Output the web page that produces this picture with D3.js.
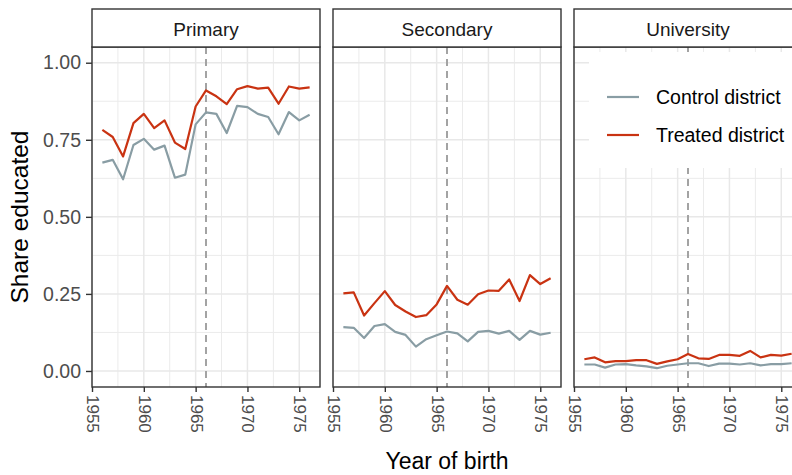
<!DOCTYPE html>
<html>
<head>
<meta charset="utf-8">
<script src="https://cdn.jsdelivr.net/npm/d3@7"></script>
<style>
  html, body { margin: 0; padding: 0; background: #fff; }
  svg { display: block; font-family: "Liberation Sans", Arial, Helvetica, sans-serif; }
</style>
</head>
<body>
<svg id="chart" width="792" height="475"></svg>
<script>
// Birth cohorts
const years = [1956, 1957, 1958, 1959, 1960, 1961, 1962, 1963, 1964, 1965, 1966,
               1967, 1968, 1969, 1970, 1971, 1972, 1973, 1974, 1975, 1976];

// Education levels (one facet each)
const levels = ["Primary", "Secondary", "University"];

// Share educated, control districts
const primaryControl = [0.676, 0.685, 0.622, 0.733, 0.753, 0.718, 0.731, 0.627, 0.637, 0.800, 0.839,
                        0.834, 0.772, 0.860, 0.856, 0.834, 0.824, 0.768, 0.840, 0.813, 0.831];
const secondaryControl = [0.142, 0.140, 0.107, 0.146, 0.152, 0.127, 0.117, 0.079, 0.103, 0.116, 0.128,
                          0.122, 0.096, 0.127, 0.130, 0.121, 0.130, 0.101, 0.130, 0.118, 0.124];
const universityControl = [0.021, 0.021, 0.011, 0.021, 0.022, 0.018, 0.015, 0.009, 0.017, 0.021, 0.025,
                           0.025, 0.016, 0.024, 0.024, 0.021, 0.025, 0.018, 0.022, 0.022, 0.025];

// Share educated, treated districts
const primaryTreated = [0.782, 0.759, 0.696, 0.804, 0.834, 0.788, 0.813, 0.741, 0.720, 0.858, 0.910,
                        0.891, 0.866, 0.914, 0.924, 0.916, 0.919, 0.867, 0.923, 0.916, 0.920];
const secondaryTreated = [0.252, 0.255, 0.180, 0.220, 0.259, 0.214, 0.193, 0.175, 0.181, 0.216, 0.276,
                          0.231, 0.215, 0.249, 0.261, 0.260, 0.297, 0.227, 0.311, 0.282, 0.301];
const universityTreated = [0.038, 0.044, 0.028, 0.032, 0.032, 0.035, 0.035, 0.023, 0.031, 0.038, 0.055,
                           0.041, 0.039, 0.052, 0.052, 0.049, 0.065, 0.044, 0.052, 0.050, 0.056];

// Groups and reform cohort
const groups = ["Control district", "Treated district"];
const groupColors = ["#899DA4", "#C93312"];
const reformYear = 1966;

// Axis ticks
const xTicks = [1955, 1960, 1965, 1970, 1975];
const xMinor = [1957.5, 1962.5, 1967.5, 1972.5];
const yTicks = [0, 0.25, 0.5, 0.75, 1.0];
const yTickLabels = ["0.00", "0.25", "0.50", "0.75", "1.00"];
const yMinor = [0.125, 0.375, 0.625, 0.875];

const seriesByLevel = {
  "Primary": [primaryControl, primaryTreated],
  "Secondary": [secondaryControl, secondaryTreated],
  "University": [universityControl, universityTreated]
};

// ---- layout ----
const svg = d3.select("#chart");
const panelW = 228, panelGap = 13, panelLeft = 92;
const stripTop = 9, stripBottom = 47, panelBottom = 387;

const y = d3.scaleLinear().domain([-0.052, 1.051]).range([panelBottom, stripBottom]);

const line = (x) => d3.line().x((d, i) => x(years[i])).y(d => y(d));

levels.forEach((lvl, k) => {
  const x0 = panelLeft + k * (panelW + panelGap);
  const x = d3.scaleLinear().domain([1955, 1977]).range([x0, x0 + panelW]);
  const g = svg.append("g");

  // background
  g.append("rect").attr("x", x0).attr("y", stripBottom).attr("width", panelW)
    .attr("height", panelBottom - stripBottom).attr("fill", "#fff");

  // minor grid
  g.selectAll(".xminor").data(xMinor).join("line")
    .attr("x1", d => x(d)).attr("x2", d => x(d))
    .attr("y1", stripBottom).attr("y2", panelBottom)
    .attr("stroke", "#ebebeb").attr("stroke-width", 1);
  g.selectAll(".yminor").data(yMinor).join("line")
    .attr("x1", x0).attr("x2", x0 + panelW)
    .attr("y1", d => y(d)).attr("y2", d => y(d))
    .attr("stroke", "#ebebeb").attr("stroke-width", 1);
  // major grid
  g.selectAll(".xmajor").data(xTicks).join("line")
    .attr("x1", d => x(d)).attr("x2", d => x(d))
    .attr("y1", stripBottom).attr("y2", panelBottom)
    .attr("stroke", "#e8e8e8").attr("stroke-width", 1.5);
  g.selectAll(".ymajor").data(yTicks).join("line")
    .attr("x1", x0).attr("x2", x0 + panelW)
    .attr("y1", d => y(d)).attr("y2", d => y(d))
    .attr("stroke", "#e8e8e8").attr("stroke-width", 1.5);

  // reform cohort marker
  g.append("line")
    .attr("x1", x(reformYear)).attr("x2", x(reformYear))
    .attr("y1", stripBottom).attr("y2", panelBottom)
    .attr("stroke", "#a3a3a3").attr("stroke-width", 2)
    .attr("stroke-dasharray", "7,5");

  // series lines
  seriesByLevel[lvl].forEach((vals, j) => {
    g.append("path").datum(vals)
      .attr("d", line(x))
      .attr("fill", "none")
      .attr("stroke", groupColors[j])
      .attr("stroke-width", 2.2)
      .attr("stroke-linejoin", "round");
  });

  // legend inside the last panel
  if (k === 2) {
    const lg = g.append("g");
    lg.append("rect").attr("x", x0 + 15).attr("y", 52).attr("width", 230).attr("height", 116)
      .attr("fill", "#fff");
    groups.forEach((name, j) => {
      const ly = 97 + j * 38;
      lg.append("line").attr("x1", x0 + 33).attr("x2", x0 + 65)
        .attr("y1", ly).attr("y2", ly)
        .attr("stroke", groupColors[j]).attr("stroke-width", 2.2);
      lg.append("text").attr("x", x0 + 82).attr("y", ly)
        .attr("dominant-baseline", "central")
        .attr("font-size", 19.5).attr("fill", "#000")
        .text(name);
    });
  }

  // panel border
  g.append("rect").attr("x", x0).attr("y", stripBottom).attr("width", panelW)
    .attr("height", panelBottom - stripBottom)
    .attr("fill", "none").attr("stroke", "#333").attr("stroke-width", 1.4);

  // strip
  g.append("rect").attr("x", x0).attr("y", stripTop).attr("width", panelW)
    .attr("height", stripBottom - stripTop)
    .attr("fill", "#fff").attr("stroke", "#333").attr("stroke-width", 1.4);
  g.append("text").attr("x", x0 + panelW / 2).attr("y", (stripTop + stripBottom) / 2 + 1)
    .attr("text-anchor", "middle").attr("dominant-baseline", "central")
    .attr("font-size", 19).attr("fill", "#1a1a1a").text(lvl);

  // x axis
  const xAxis = d3.axisBottom(x).tickValues(xTicks).tickSize(5).tickPadding(0).tickFormat(d3.format("d"));
  const ax = g.append("g").attr("transform", `translate(0,${panelBottom})`).call(xAxis);
  ax.select(".domain").remove();
  ax.selectAll(".tick line").attr("stroke", "#333").attr("stroke-width", 1.4);
  ax.selectAll(".tick text")
    .attr("transform", "rotate(90)")
    .attr("x", 8).attr("y", 0).attr("dy", null)
    .attr("text-anchor", "start").attr("dominant-baseline", "central")
    .attr("font-size", 17).attr("fill", "#4d4d4d");

  // y axis on the first panel only
  if (k === 0) {
    const yAxis = d3.axisLeft(y).tickValues(yTicks).tickSize(6).tickPadding(5)
      .tickFormat((d, i) => yTickLabels[i]);
    const ay = g.append("g").attr("transform", `translate(${x0},0)`).call(yAxis);
    ay.select(".domain").remove();
    ay.selectAll(".tick line").attr("stroke", "#333").attr("stroke-width", 1.4);
    ay.selectAll(".tick text").attr("font-size", 19.5).attr("fill", "#4d4d4d");
  }
});

// axis titles
svg.append("text")
  .attr("x", 447).attr("y", 469)
  .attr("text-anchor", "middle").attr("font-size", 23).attr("fill", "#000")
  .text("Year of birth");
svg.append("text")
  .attr("transform", `translate(28,${(stripBottom + panelBottom) / 2}) rotate(-90)`)
  .attr("text-anchor", "middle").attr("font-size", 24.5).attr("fill", "#000")
  .text("Share educated");
</script>
</body>
</html>
